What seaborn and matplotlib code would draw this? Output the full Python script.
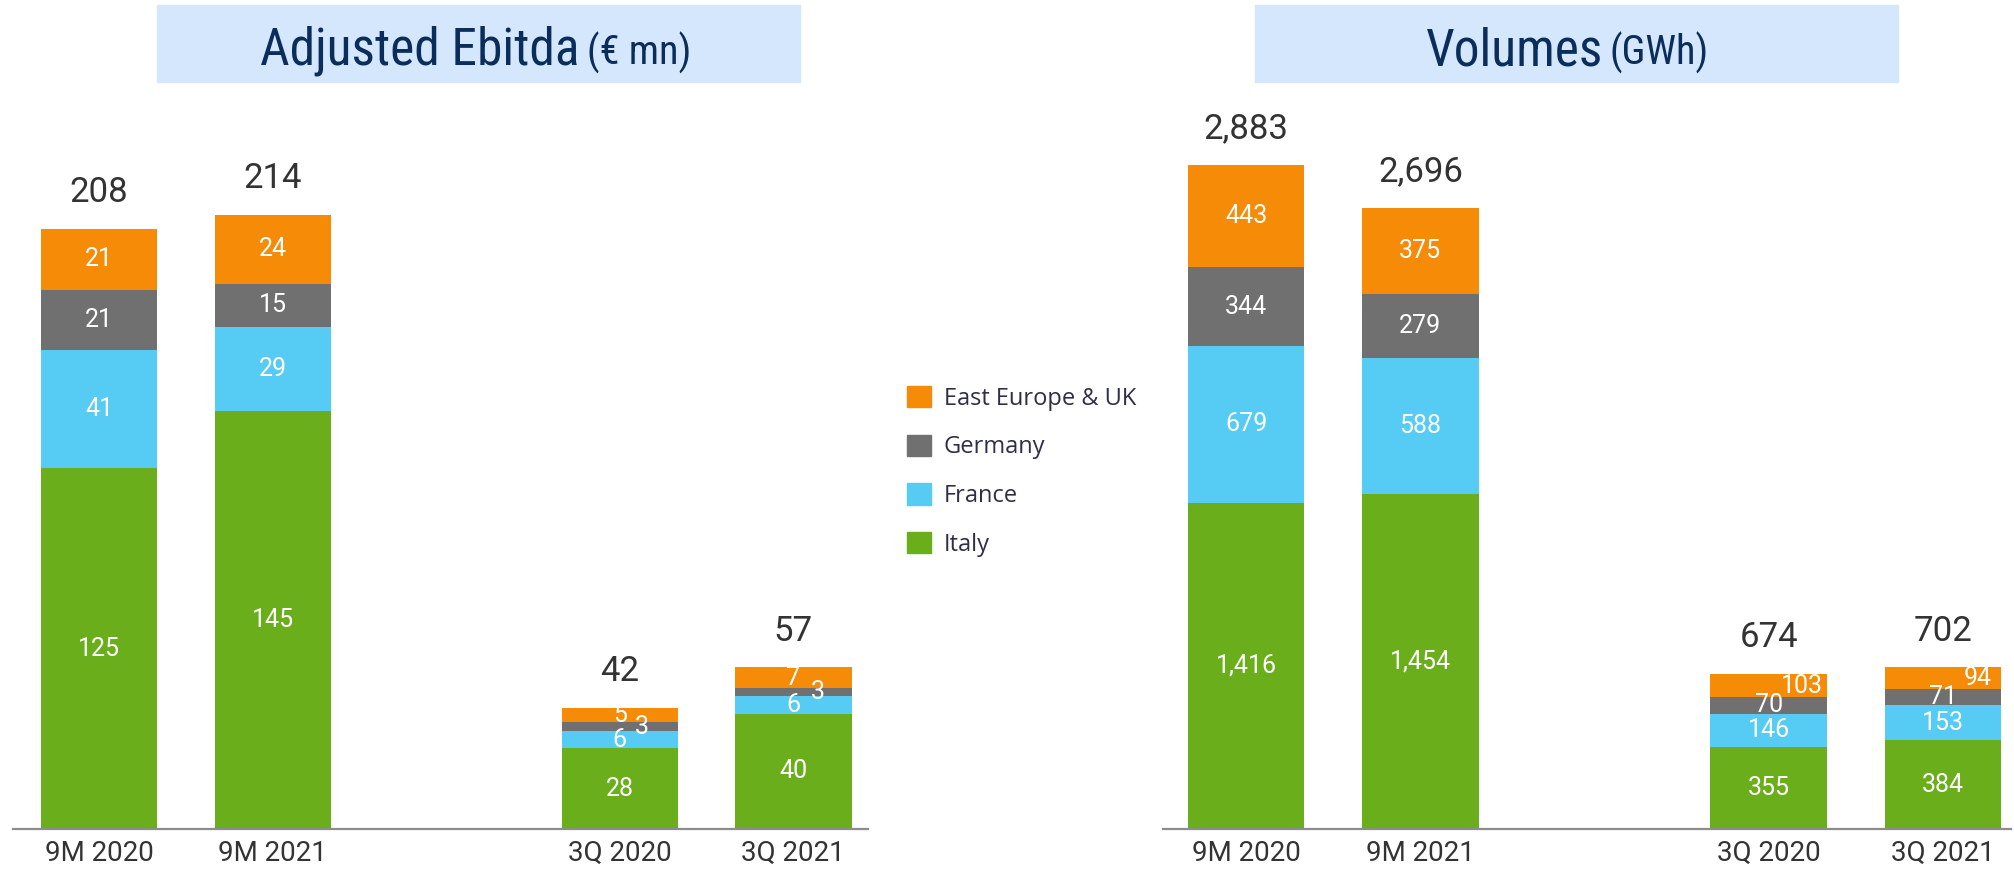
import numpy as np
import pandas as pd
import matplotlib
matplotlib.use('Agg')
import matplotlib.pyplot as plt
import seaborn as sns
from matplotlib.patches import Rectangle, Patch

# data
periods = ['9M 2020', '9M 2021', '3Q 2020', '3Q 2021']
regions = ['Italy', 'France', 'Germany', 'East Europe & UK']

ebitda_italy = [125, 145, 28, 40]
ebitda_france = [41, 29, 6, 6]
ebitda_germany = [21, 15, 3, 3]
ebitda_east = [21, 24, 5, 7]
ebitda_total = [208, 214, 42, 57]

vol_italy = [1416, 1454, 355, 384]
vol_france = [679, 588, 146, 153]
vol_germany = [344, 279, 70, 71]
vol_east = [443, 375, 103, 94]
vol_total = [2883, 2696, 674, 702]

colors = {'Italy': '#6AAF1B', 'France': '#56CCF5',
          'Germany': '#707070', 'East Europe & UK': '#F68B08'}

# empty slot between the 9M and 3Q groups
slots = ['9M 2020', '9M 2021', 'gap', '3Q 2020', '3Q 2021']

W, H = 2015, 872

sns.set_style('white')
plt.rcParams['font.family'] = ['Roboto', 'DejaVu Sans']
title_font = ['Roboto Condensed', 'DejaVu Sans Condensed', 'Roboto', 'DejaVu Sans']

fig = plt.figure(figsize=(W / 100, H / 100), dpi=100)
ax1 = fig.add_axes([13 / W, 43 / H, 855 / W, 729 / H])
ax2 = fig.add_axes([1163 / W, 43 / H, 848 / W, 729 / H])


def draw_panel(ax, segs, totals, ymax, xlim, nudge):
    df = pd.DataFrame(dict(zip(regions, segs)), index=periods)
    cum = df.cumsum(axis=1)
    long = cum.reset_index(names='period').melt(id_vars='period', var_name='region', value_name='top')
    # draw cumulative bars from the top layer down so they stack
    for reg in reversed(regions):
        sns.barplot(data=long[long['region'] == reg], x='period', y='top', order=slots,
                    color=colors[reg], saturation=1, width=0.67, linewidth=0,
                    errorbar=None, ax=ax)

    for p in periods:
        x = slots.index(p)
        bottom = 0
        for reg in regions:
            v = df.loc[p, reg]
            ax.text(x + nudge.get((p, reg), 0), bottom + v / 2, f'{v:,}',
                    ha='center', va='center', fontsize=18, color='white')
            bottom += v
        ax.annotate(f'{totals[periods.index(p)]:,}', xy=(x, bottom), xytext=(0, 26),
                    textcoords='offset points', ha='center', va='center',
                    fontsize=25, color='#333333')

    ax.set_xlim(*xlim)
    ax.set_ylim(0, ymax)
    ax.set_xticks([slots.index(p) for p in periods])
    ax.set_xticklabels(periods)
    ax.set_yticks([])
    ax.set_xlabel('')
    ax.set_ylabel('')
    ax.tick_params(axis='x', length=0, labelsize=20, labelcolor='#333333', pad=8)
    sns.despine(ax=ax, left=True)
    ax.spines['bottom'].set_color('#8C8C8C')
    ax.spines['bottom'].set_linewidth(1.6)
    ax.patch.set_alpha(0)


draw_panel(ax1, [ebitda_italy, ebitda_france, ebitda_germany, ebitda_east], ebitda_total,
           252.7, (-0.496, 4.43),
           {('3Q 2020', 'Germany'): 0.13, ('3Q 2021', 'Germany'): 0.14})
draw_panel(ax2, [vol_italy, vol_france, vol_germany, vol_east], vol_total,
           3163, (-0.477, 4.39),
           {('3Q 2020', 'East Europe & UK'): 0.19, ('3Q 2021', 'East Europe & UK'): 0.2})

# title boxes
for x0, x1 in [(157, 800), (1255, 1898)]:
    fig.add_artist(Rectangle((x0 / W, 1 - 82 / H), (x1 - x0) / W, 77 / H,
                             transform=fig.transFigure, color='#D4E7FC', zorder=0))

for split, main, unit in [(582, 'Adjusted Ebitda', '(€ mn)'), (1605, 'Volumes', '(GWh)')]:
    fig.text((split - 2) / W, 1 - 65 / H, main, ha='right', va='baseline',
             fontsize=37, color='#0A2D5C', family=title_font, stretch='condensed')
    fig.text((split + 5) / W, 1 - 65 / H, unit, ha='left', va='baseline',
             fontsize=29, color='#0A2D5C', family=title_font, stretch='condensed')

handles = [Patch(color=colors[r], label=r) for r in reversed(regions)]
fig.legend(handles=handles, loc='upper left', bbox_to_anchor=(907 / W, 1 - 386 / H),
           frameon=False, prop={'family': ['Open Sans', 'Roboto'], 'size': 17},
           handlelength=1.0, handleheight=1.0, handletextpad=0.55, labelspacing=1.02,
           borderpad=0, borderaxespad=0, labelcolor='#2E2E48')

fig.savefig('out.png', dpi=100)
